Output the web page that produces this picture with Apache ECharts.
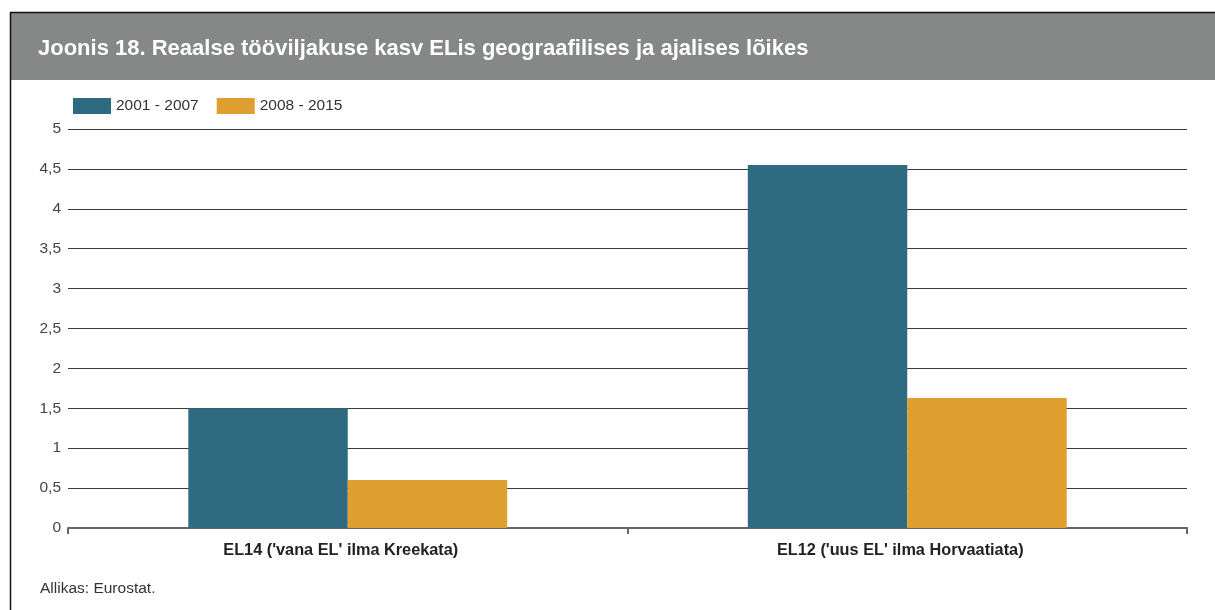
<!DOCTYPE html>
<html>
<head>
<meta charset="utf-8">
<script src="https://cdn.jsdelivr.net/npm/echarts@6/dist/echarts.min.js"></script>
<style>
  html, body { margin: 0; padding: 0; background: #fff; }
  #chart { width: 1215px; height: 610px; }
</style>
</head>
<body>
<div id="chart"></div>
<script>
// Real labour productivity growth, old vs new EU member states
const categories = ["EL14 ('vana EL' ilma Kreekata)", "EL12 ('uus EL' ilma Horvaatiata)"];
const seriesNames = ['2001 - 2007', '2008 - 2015'];
const period2001_2007 = [1.5, 4.55];
const period2008_2015 = [0.6, 1.63];
const colors = ['#2e6b80', '#de9e30'];

const FONT = "'Liberation Sans', Arial, Helvetica, sans-serif";

const chart = echarts.init(document.getElementById('chart'), null, { renderer: 'canvas' });

chart.setOption({
  animation: false,
  backgroundColor: '#ffffff',
  textStyle: { fontFamily: FONT },
  graphic: [
    // header band
    { type: 'rect', shape: { x: 11, y: 13, width: 1204, height: 67 }, style: { fill: '#868787' }, z: -1 },
    // frame edges
    { type: 'line', shape: { x1: 10, y1: 12.5, x2: 1215, y2: 12.5 }, style: { stroke: '#111', lineWidth: 1.5 } },
    { type: 'line', shape: { x1: 10.5, y1: 12, x2: 10.5, y2: 610 }, style: { stroke: '#111', lineWidth: 1.5 } },
    // source note
    { type: 'text', left: 40, top: 581, style: { text: 'Allikas: Eurostat.', fill: '#333', font: '15.5px ' + FONT } }
  ],
  title: {
    text: 'Joonis 18. Reaalse tööviljakuse kasv ELis geograafilises ja ajalises lõikes',
    left: 33,
    top: 33,
    textStyle: { color: '#ffffff', fontSize: 22, fontWeight: 'bold', fontFamily: FONT }
  },
  legend: {
    left: 68,
    top: 93,
    itemWidth: 38,
    itemHeight: 16,
    itemGap: 18,
    icon: 'rect',
    textStyle: { color: '#333', fontSize: 15.5, fontFamily: FONT },
    data: seriesNames
  },
  grid: { left: 68, right: 28, top: 129, bottom: 82, containLabel: false },
  xAxis: {
    type: 'category',
    data: categories,
    axisLine: { lineStyle: { color: '#666', width: 2 } },
    axisTick: { show: true, length: 6, lineStyle: { color: '#666', width: 2 } },
    axisLabel: {
      color: '#222', fontSize: 16.3, fontWeight: 'bold', margin: 15, fontFamily: FONT,
      padding: [0, 14, 0, 0]
    }
  },
  yAxis: {
    type: 'value',
    min: 0,
    max: 5,
    interval: 0.5,
    axisLine: { show: false },
    axisTick: { show: false },
    splitLine: { lineStyle: { color: '#3c3c3c', width: 1.2 } },
    axisLabel: {
      color: '#444', fontSize: 15.5, margin: 7, fontFamily: FONT,
      formatter: v => String(v).replace('.', ',')
    }
  },
  series: [
    {
      name: seriesNames[0], type: 'bar', data: period2001_2007,
      barGap: '0%', barCategoryGap: '43%',
      itemStyle: { color: colors[0] }, z: 3
    },
    {
      name: seriesNames[1], type: 'bar', data: period2008_2015,
      barGap: '0%', barCategoryGap: '43%',
      itemStyle: { color: colors[1] }, z: 3
    }
  ]
});
</script>
</body>
</html>
